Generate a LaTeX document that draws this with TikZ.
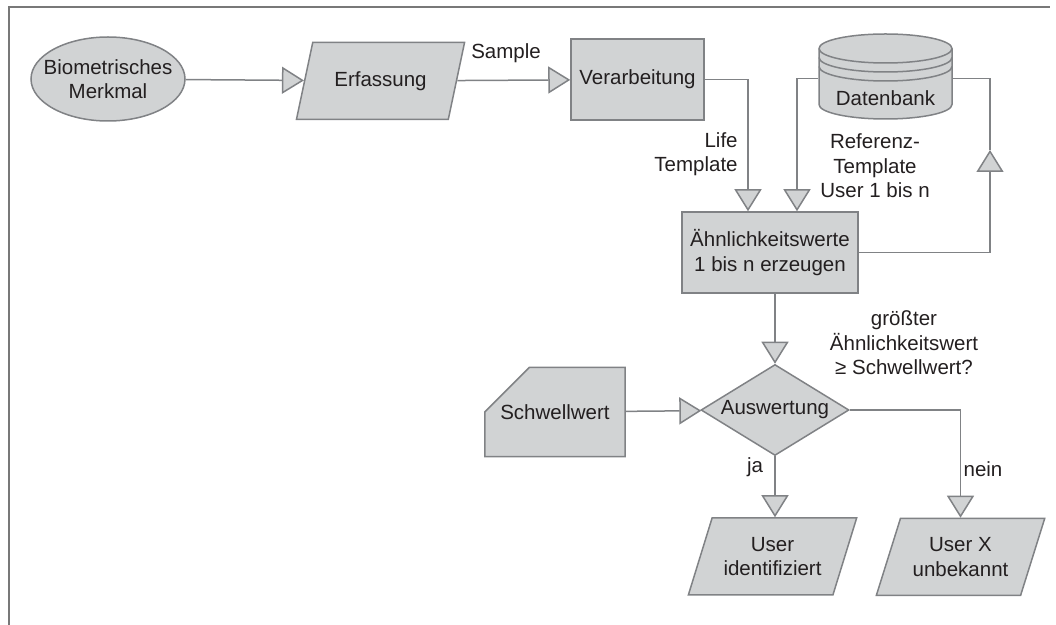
\documentclass[tikz,border=0pt]{standalone}
\usepackage{fontspec}
\setmainfont{Liberation Sans}
\usetikzlibrary{arrows.meta,shapes.geometric,shapes.misc,calc}

\definecolor{shapefill}{RGB}{209,211,212}
\definecolor{linegray}{RGB}{128,130,133}
\definecolor{textdark}{RGB}{35,31,32}
\definecolor{framegray}{RGB}{120,120,120}

\tikzset{
  base/.style={ % common look of all flowchart shapes
    draw=linegray, fill=shapefill, line width=.75pt,
    text=textdark, align=center, inner sep=2pt,
    font=\fontsize{10.25pt}{12.25pt}\selectfont
  },
  feature/.style={ % ellipse for the biometric feature
    base, ellipse, minimum width=77pt, minimum height=42pt, inner xsep=-5pt
  },
  io/.style={ % parallelogram for input / output
    base, trapezium, trapezium left angle=66, trapezium right angle=114,
    trapezium stretches=true, minimum width=84.5pt, minimum height=38.5pt
  },
  proc/.style={ % plain process box
    base, rectangle, minimum height=40.5pt
  },
  decision/.style={
    base, diamond, aspect=1.63, inner sep=0pt,
    minimum width=74pt, minimum height=45.5pt
  },
  manual/.style={ % card with a cut corner
    base, chamfered rectangle, chamfered rectangle corners=north west,
    chamfered rectangle xsep=14.5pt, chamfered rectangle ysep=16.5pt,
    minimum width=68pt, minimum height=41pt
  },
  drum/.style={ % outline of the database drum
    draw=linegray, fill=shapefill, line width=.75pt
  },
  storage/.style={ % text of the database, sits low in the drum
    base, draw=none, fill=none, minimum width=66.5pt, minimum height=44pt,
    text height=29.5pt, text depth=0pt
  },
  tag/.style={
    text=textdark, align=center, inner sep=1pt,
    font=\fontsize{10.25pt}{12.25pt}\selectfont
  },
  flow/.style={
    draw=linegray, line width=.75pt,
    -{Triangle[length=11pt, width=13.5pt, fill=shapefill]}
  },
  wire/.style={draw=linegray, line width=.75pt}
}

\begin{document}
\begin{tikzpicture}[x=0.5pt, y=-0.5pt]
  \useasboundingbox (0,0) rectangle (1056,625);
  \draw[line width=1pt, framegray] (9,625) -- (9,7) -- (1050,7);

  \coordinate (dbc) at (885.5,76.5);
  \begin{scope}[shift={(dbc)}]
    \filldraw[drum] (-33.25pt,14pt) -- (-33.25pt,-14pt)
      arc[start angle=180, end angle=360, x radius=33.25pt, y radius=7.25pt]
      -- (33.25pt,14pt)
      arc[start angle=0, end angle=180, x radius=33.25pt, y radius=7.25pt]
      -- cycle;
    \foreach \dy in {0,4.5,9}
      \draw[drum, fill=none] (-33.25pt,14pt-\dy pt)
        arc[start angle=180, end angle=360, x radius=33.25pt, y radius=7.25pt];
  \end{scope}

  \node[feature] (merkmal) at (108,79) {Biometrisches\\Merkmal};
  \node[io] (erfassung) at (380.5,81) {Erfassung};
  \node[proc, minimum width=66.5pt] (verarb) at (637.5,79.5) {Verarbeitung};
  \node[storage] (db) at (dbc) {Datenbank};
  \node[proc, minimum width=88pt] (sim) at (770,252.5) {Ähnlichkeitswerte\\1 bis n erzeugen};
  \node[decision] (ausw) at (775,410) {Auswertung};
  \node[manual] (schwelle) at (555,412) {Schwellwert};
  \node[io] (userid) at (772.5,556.5) {User\\identifiziert};
  \node[io] (userx) at (960.5,557) {User X\\unbekannt};

  \node[tag] (sample_label) at (506,53) {Sample};
  \node[tag, align=right, anchor=east] (life_label) at (740,154) {Life\\Template};
  \node[tag] (ref_label) at (875,166) {Referenz-\\Template\\User 1 bis n};
  \node[tag] (crit_label) at (904,343) {größter\\Ähnlichkeitswert\\≥ Schwellwert?};
  \node[tag] (ja_label) at (755,467) {ja};
  \node[tag] (nein_label) at (983,469) {nein};

  \coordinate (back) at (990,150);

  \draw[flow] (merkmal) -- (erfassung);
  \draw[flow] (erfassung) -- (verarb);
  \draw[flow] (verarb.east) -| ([xshift=-11pt]sim.north);
  \draw[flow] ([yshift=-1pt]db.west) -| ([xshift=13.5pt]sim.north);
  \draw[flow] (sim.east) -| (back);
  \draw[wire] (back) |- ([yshift=-1pt]db.east);
  \draw[flow] (sim.south -| ausw.north) -- (ausw.north);
  \draw[flow] (schwelle) -- (ausw);
  \draw[flow] (ausw.south) -- (ausw.south |- userid.north);
  \draw[flow] (ausw.east) -| (userx.north);
\end{tikzpicture}
\end{document}
